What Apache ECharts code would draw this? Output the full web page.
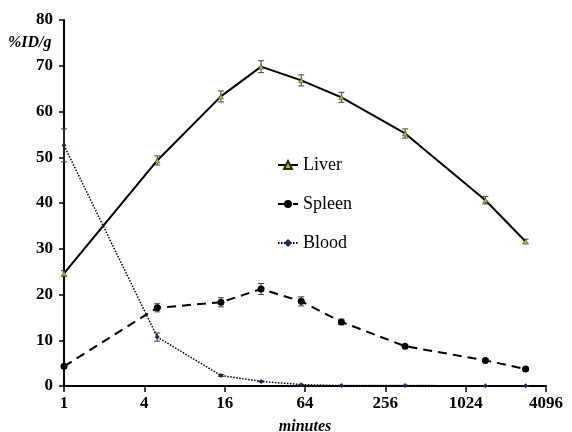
<!DOCTYPE html>
<html>
<head>
<meta charset="utf-8">
<script src="https://cdn.jsdelivr.net/npm/echarts@6/dist/echarts.min.js"></script>
<style>html,body{margin:0;padding:0;background:#fff}#c{width:572px;height:432px}</style>
</head>
<body>
<div id="c"></div>
<script>
const minutes = [1, 5, 15, 30, 60, 120, 360, 1440, 2880];
const liver = [24.6, 49.3, 63.3, 69.8, 66.8, 63.1, 55.2, 40.6, 31.6];
const liverErr = [0.6, 1.0, 1.2, 1.3, 1.2, 1.1, 1.0, 0.8, 0.5];
const spleen = [4.3, 17.1, 18.3, 21.2, 18.5, 14.0, 8.7, 5.6, 3.7];
const spleenErr = [0.3, 0.9, 1.0, 1.2, 1.0, 0.6, 0.3, 0.2, 0.2];
const blood = [52.6, 10.7, 2.3, 1.0, 0.3, 0.1, 0.1, 0.05, 0.05];
const bloodErr = [3.6, 0.9, 0.2, 0.1, 0.05, 0.02, 0.02, 0.01, 0.01];
const xTicks = [1, 4, 16, 64, 256, 1024, 4096];
const yTicks = [0, 10, 20, 30, 40, 50, 60, 70, 80];

const font = '"Liberation Serif","Times New Roman",serif';

function pairs(vals) { return minutes.map((m, i) => [m, vals[i]]); }
function errData(vals, errs) { return minutes.map((m, i) => [m, vals[i] - errs[i], vals[i] + errs[i]]); }

function errSeries(vals, errs) {
  return {
    type: 'custom',
    silent: true,
    z: 1,
    data: errData(vals, errs),
    renderItem: function (params, api) {
      const x = api.value(0);
      const lo = api.coord([x, api.value(1)]);
      const hi = api.coord([x, api.value(2)]);
      const w = 3;
      const st = { stroke: '#444', lineWidth: 1 };
      return {
        type: 'group',
        children: [
          { type: 'line', shape: { x1: lo[0], y1: lo[1], x2: hi[0], y2: hi[1] }, style: st },
          { type: 'line', shape: { x1: lo[0] - w, y1: lo[1], x2: lo[0] + w, y2: lo[1] }, style: st },
          { type: 'line', shape: { x1: hi[0] - w, y1: hi[1], x2: hi[0] + w, y2: hi[1] }, style: st }
        ]
      };
    },
    encode: { x: 0, y: [1, 2] }
  };
}

const chart = echarts.init(document.getElementById('c'), null, { renderer: 'canvas' });
chart.setOption({
  animation: false,
  backgroundColor: '#fff',
  grid: { left: 64, right: 26, top: 20, bottom: 46, containLabel: false, outerBoundsMode: 'none' },
  legend: {
    data: ['Liver', 'Spleen', 'Blood'],
    orient: 'vertical',
    left: 272,
    top: 151,
    itemGap: 21,
    itemWidth: 20,
    itemHeight: 10,
    textStyle: { fontFamily: font, fontSize: 18, color: '#000' }
  },
  xAxis: {
    type: 'log',
    logBase: 2,
    min: 1,
    max: 4096,
    interval: 2,
    name: 'minutes',
    nameLocation: 'middle',
    nameGap: 33,
    nameTextStyle: { fontFamily: font, fontSize: 16, fontWeight: 'bold', fontStyle: 'italic', color: '#000' },
    axisLine: { lineStyle: { color: '#000', width: 2 } },
    axisTick: { show: true, length: 6, inside: false, lineStyle: { color: '#000', width: 1.5 } },
    axisLabel: { fontFamily: font, fontSize: 17, fontWeight: 'bold', color: '#000', margin: 9,
      formatter: function (v) { return String(Math.round(v)); } },
    splitLine: { show: false }
  },
  yAxis: {
    type: 'value',
    min: 0,
    max: 80,
    interval: 10,
    axisLine: { show: true, lineStyle: { color: '#000', width: 2 } },
    axisTick: { show: true, length: 5, lineStyle: { color: '#000', width: 1.5 } },
    axisLabel: { fontFamily: font, fontSize: 17, fontWeight: 'bold', color: '#000', margin: 11 },
    splitLine: { show: false }
  },
  graphic: [{
    type: 'text', left: 8, top: 35,
    style: { text: '%ID/g', fontFamily: font, fontSize: 16, fontWeight: 'bold', fontStyle: 'italic', fill: '#000' }
  }],
  series: [
    errSeries(liver, liverErr),
    errSeries(spleen, spleenErr),
    errSeries(blood, bloodErr),
    {
      name: 'Liver', type: 'line', data: pairs(liver), z: 3,
      symbol: 'triangle', symbolSize: 5,
      itemStyle: { color: '#9acd32', borderColor: '#333300', borderWidth: 0.5 },
      lineStyle: { color: '#000', width: 2, type: 'solid' }
    },
    {
      name: 'Spleen', type: 'line', data: pairs(spleen), z: 3,
      symbol: 'circle', symbolSize: 7,
      itemStyle: { color: '#000' },
      lineStyle: { color: '#000', width: 2, type: [9, 6] }
    },
    {
      name: 'Blood', type: 'line', data: pairs(blood), z: 3,
      symbol: 'diamond', symbolSize: 5,
      itemStyle: { color: '#1a2a5a' },
      lineStyle: { color: '#000', width: 1.5, type: [1.5, 1.5] }
    }
  ]
});
</script>
</body>
</html>
